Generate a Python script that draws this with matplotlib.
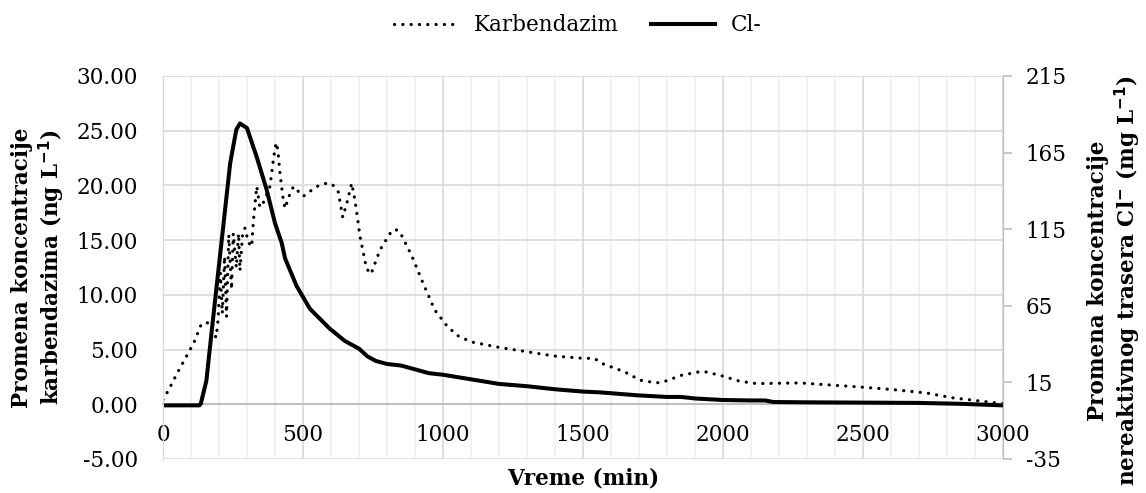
import numpy as np
import matplotlib
matplotlib.use("Agg")
import matplotlib.pyplot as plt
from matplotlib.ticker import MultipleLocator

plt.rcParams['font.family'] = ['DejaVu Serif']
plt.rcParams['font.size'] = 15.5
plt.rcParams['axes.unicode_minus'] = False

# Karbendazim (ng/L) vs vreme (min)
karb_t = [0, 20, 50, 80, 110, 135, 150, 165, 180, 190, 197, 205, 212, 220, 227,
          235, 245, 251, 262, 270, 275, 285, 293, 305, 317, 323, 335, 346, 360,
          382, 395, 404, 410, 418, 428, 436, 450, 466, 501, 549, 584, 605, 626,
          642, 656, 674, 686, 704, 727, 743, 775, 811, 829, 846, 888, 930, 971,
          1013, 1050, 1100, 1200, 1300, 1400, 1500, 1540, 1571, 1650, 1704,
          1763, 1793, 1852, 1912, 1942, 2001, 2061, 2120, 2275, 2393, 2489,
          2608, 2727, 2822, 2918, 3000]
karb_c = [0.4, 1.3, 2.8, 4.2, 5.6, 7.2, 7.5, 7.4, 6.5, 6.1, 7.8, 12.0, 8.3, 13.5,
          8.0, 15.5, 10.5, 15.6, 12.5, 15.6, 12.2, 15.8, 16.1, 14.8, 14.4, 16.8,
          19.9, 18.0, 18.5, 19.9, 22.5, 23.9, 23.3, 21.1, 19.0, 17.9, 19.0, 19.9,
          19.0, 19.9, 20.2, 20.1, 19.4, 17.1, 18.3, 20.2, 18.6, 15.3, 12.4, 11.9,
          14.1, 15.6, 16.0, 15.75, 13.6, 11.0, 8.6, 7.2, 6.3, 5.7, 5.2, 4.8, 4.4,
          4.2, 4.2, 3.7, 2.95, 2.2, 1.95, 2.1, 2.65, 2.95, 2.95, 2.56, 2.1, 1.89,
          1.95, 1.74, 1.58, 1.34, 1.03, 0.58, 0.3, 0.05]

# Cl- (mg/L) vs vreme (min)
cl_t = [0, 130, 135, 155, 175, 210, 240, 262, 275, 300, 335, 370, 400, 424, 436,
        477, 525, 596, 650, 700, 730, 760, 800, 850, 900, 950, 1000, 1050, 1100,
        1200, 1300, 1400, 1500, 1560, 1650, 1700, 1800, 1850, 1900, 2000, 2100,
        2150, 2180, 2300, 2500, 2700, 2850, 3000]
cl_c = [0, 0, 1, 16, 50, 108, 158, 180, 184, 181, 162, 141, 119, 106, 96, 78,
        63, 50, 42, 37, 32, 29, 27, 26, 23.5, 21, 20, 18.5, 17, 14, 12.5, 10.5,
        9, 8.5, 7.2, 6.5, 5.5, 5.5, 4.5, 3.5, 3.2, 3.2, 2.2, 2.0, 1.8, 1.6, 1.0, 0]

left_ticks = [-5, 0, 5, 10, 15, 20, 25, 30]
right_ticks = [-35, 15, 65, 115, 165, 215]

fig = plt.figure(figsize=(11.46, 4.93), dpi=100)
ax = fig.add_axes([0.1422, 0.069, 0.733, 0.7769])
ax2 = ax.twinx()

l1, = ax.plot(karb_t, karb_c, color='black', lw=2.3,
              linestyle=(0, (0.05, 2.55)), dash_capstyle='round',
              label='Karbendazim')
l2, = ax2.plot(cl_t, cl_c, color='black', lw=2.9, solid_joinstyle='round',
               label='Cl-')

ax.set_xlim(0, 3000)
ax.set_ylim(-5, 30)
ax.set_yticks(left_ticks)
ax.set_yticklabels(['%.2f' % v for v in left_ticks])
ax.xaxis.set_major_locator(MultipleLocator(500))
ax.xaxis.set_minor_locator(MultipleLocator(100))
ax.grid(axis='y', color='#D9D9D9', lw=1.2)
ax.grid(axis='x', which='major', color='#D9D9D9', lw=1.2)
ax.grid(axis='x', which='minor', color='#F0F0F0', lw=1.2)
ax.set_axisbelow(True)

ax2.set_ylim(-35, 215)
ax2.set_yticks(right_ticks)

# horizontal axis crosses at zero
ax.spines['bottom'].set_position(('data', 0))
ax.spines['bottom'].set_color('#BFBFBF')
ax.spines['bottom'].set_linewidth(1.5)
for a in (ax, ax2):
    a.spines['top'].set_visible(False)
    a.spines['left'].set_color('#D9D9D9')
    a.spines['right'].set_color('#BFBFBF')
    a.spines['bottom'].set_visible(a is ax)
ax.tick_params(axis='x', which='both', length=0, pad=14, colors='black')
ax.tick_params(axis='y', length=0, pad=18)
ax2.tick_params(axis='y', direction='out', length=6.5, width=1.2,
                color='#BFBFBF', pad=10)

fig.text(39 / 1146, 0.457,
         'Promena koncentracije\nkarbendazima (ng L$^{\\mathbf{-1}}$)',
         rotation=90, ha='center', va='center', fontweight='bold',
         linespacing=1.15)
fig.text(1115 / 1146, 0.43,
         'Promena koncentracije\nnereaktivnog trasera Cl$^{\\mathbf{-}}$ (mg L$^{\\mathbf{-1}}$)',
         rotation=90, ha='center', va='center', fontweight='bold',
         linespacing=1.15)
fig.text(583 / 1146, 1 - 478 / 493, 'Vreme (min)', ha='center', va='center',
         fontweight='bold')

fig.legend([l1, l2], ['Karbendazim', 'Cl-'], loc='center', ncol=2,
           bbox_to_anchor=(0.504, 0.949), frameon=False, handlelength=3,
           handletextpad=0.7, columnspacing=1.5)

fig.savefig('out.png', dpi=100)
